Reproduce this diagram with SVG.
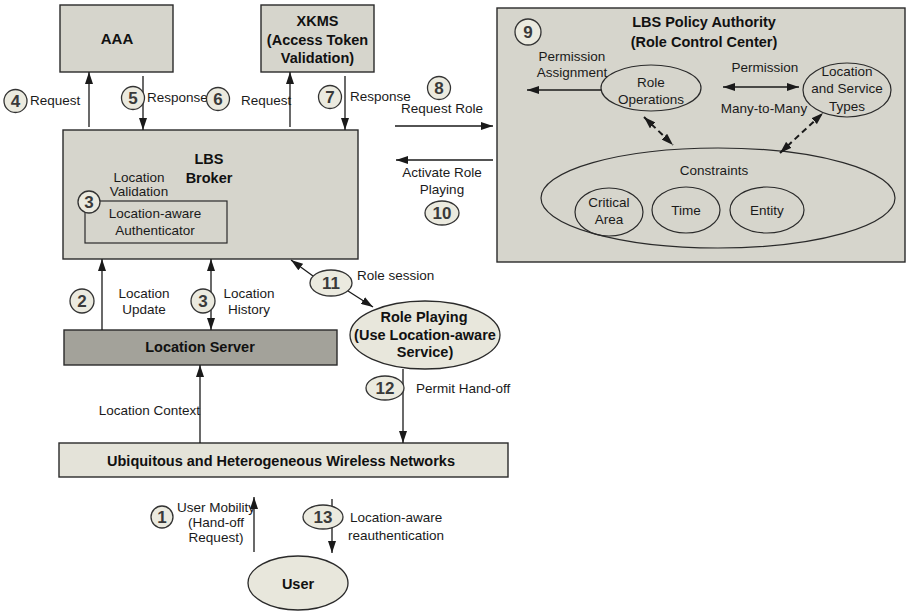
<svg xmlns="http://www.w3.org/2000/svg" width="911" height="612" viewBox="0 0 911 612">
  <defs>
    <marker id="ah" viewBox="0 0 12 8" refX="12" refY="4" markerWidth="12" markerHeight="8" markerUnits="userSpaceOnUse" orient="auto-start-reverse">
      <path d="M0,0 L12,4 L0,8 z" fill="#1a1a1a"/>
    </marker>
    <style>
      .box { fill: #d6d5cc; stroke: #2a2a2a; stroke-width: 1.4; }
      .srv { fill: #a3a29a; stroke: #2a2a2a; stroke-width: 1.4; }
      .net { fill: #e4e3d9; stroke: #2a2a2a; stroke-width: 1.4; }
      .ell { fill: #e8e7dc; stroke: #2a2a2a; stroke-width: 1.3; }
      .oval { fill: none; stroke: #2a2a2a; stroke-width: 1.2; }
      .num { fill: #ebeadf; stroke: #333; stroke-width: 1.3; }
      .numt { font-family: "Liberation Sans", Arial, sans-serif; font-weight: bold; font-size: 17px; fill: #3a3a3a; text-anchor: middle; }
      .t { font-family: "Liberation Sans", Arial, sans-serif; font-size: 13.5px; fill: #1a1a1a; }
      .c { text-anchor: middle; }
      .b { font-family: "Liberation Sans", Arial, sans-serif; font-weight: bold; font-size: 14.5px; fill: #111; text-anchor: middle; }
      .ln { stroke: #1a1a1a; stroke-width: 1.3; fill: none; }
      .dash { stroke: #1a1a1a; stroke-width: 2; stroke-dasharray: 6 4; fill: none; }
    </style>
  </defs>

  <!-- top services -->
  <g id="aaa">
    <rect class="box" x="60" y="5" width="113" height="67"/>
    <text class="b" x="117" y="44" style="font-size:15px">AAA</text>
  </g>
  <g id="xkms">
    <rect class="box" x="261" y="5" width="113" height="67"/>
    <text class="b" x="317.5" y="26">XKMS</text>
    <text class="b" x="317.5" y="45">(Access Token</text>
    <text class="b" x="317.5" y="63">Validation)</text>
  </g>

  <!-- broker -->
  <g id="broker">
    <rect class="box" x="63" y="130" width="295" height="129"/>
    <text class="b" x="209" y="164">LBS</text>
    <text class="b" x="209" y="183">Broker</text>
    <text class="t c" x="139" y="182">Location</text>
    <text class="t c" x="139" y="196">Validation</text>
  </g>
  <g id="authenticator">
    <rect x="85" y="201" width="142" height="42" fill="none" stroke="#2a2a2a" stroke-width="1.2"/>
    <text class="t c" x="155" y="218">Location-aware</text>
    <text class="t c" x="155" y="235">Authenticator</text>
    <circle class="num" cx="89" cy="202" r="11"/>
    <text class="numt" x="89" y="208">3</text>
  </g>

  <!-- policy authority -->
  <g id="policy">
    <rect class="box" x="497" y="8" width="408" height="254"/>
    <text class="b" x="704" y="27">LBS Policy Authority</text>
    <text class="b" x="704" y="47">(Role Control Center)</text>
    <circle class="num" cx="528" cy="32" r="13"/>
    <text class="numt" x="528" y="38">9</text>
    <text class="t c" x="572" y="61">Permission</text>
    <text class="t c" x="572" y="77">Assignment</text>
    <text class="t c" x="765" y="72">Permission</text>
    <text class="t c" x="764" y="113">Many-to-Many</text>
  </g>
  <g id="role-ops">
    <ellipse class="oval" cx="651" cy="88" rx="50" ry="23"/>
    <text class="t c" x="651" y="87">Role</text>
    <text class="t c" x="651" y="104">Operations</text>
  </g>
  <g id="loc-types">
    <ellipse class="oval" cx="847" cy="90" rx="44" ry="27"/>
    <text class="t c" x="847" y="76">Location</text>
    <text class="t c" x="847" y="93">and Service</text>
    <text class="t c" x="847" y="111">Types</text>
  </g>
  <g id="constraints">
    <ellipse class="oval" cx="718" cy="198" rx="177" ry="50"/>
    <text class="t c" x="714" y="175">Constraints</text>
  </g>
  <g id="critical-area">
    <ellipse class="oval" cx="609" cy="212" rx="34" ry="24"/>
    <text class="t c" x="609" y="207">Critical</text>
    <text class="t c" x="609" y="224">Area</text>
  </g>
  <g id="time">
    <ellipse class="oval" cx="686" cy="210" rx="34" ry="23"/>
    <text class="t c" x="686" y="215">Time</text>
  </g>
  <g id="entity">
    <ellipse class="oval" cx="767" cy="210" rx="37" ry="23"/>
    <text class="t c" x="767" y="215">Entity</text>
  </g>

  <!-- location server and networks -->
  <g id="location-server">
    <rect class="srv" x="64" y="330" width="273" height="35"/>
    <text class="b" x="200" y="352">Location Server</text>
  </g>
  <g id="role-playing">
    <ellipse class="ell" cx="425" cy="335" rx="75" ry="34"/>
    <text class="b" x="424" y="322">Role Playing</text>
    <text class="b" x="425" y="340">(Use Location-aware</text>
    <text class="b" x="425" y="357">Service)</text>
  </g>
  <g id="networks">
    <rect class="net" x="59" y="443" width="449" height="34"/>
    <text class="b" x="281" y="466">Ubiquitous and Heterogeneous Wireless Networks</text>
  </g>
  <g id="user">
    <ellipse class="ell" cx="298" cy="583" rx="50" ry="27"/>
    <text class="b" x="298" y="589">User</text>
  </g>

  <!-- connectors -->
  <g id="connectors">
    <line class="ln" x1="89" y1="127" x2="89" y2="72" marker-end="url(#ah)"/>
    <line class="ln" x1="143" y1="76" x2="143" y2="130" marker-end="url(#ah)"/>
    <line class="ln" x1="290" y1="127" x2="290" y2="72" marker-end="url(#ah)"/>
    <line class="ln" x1="345" y1="76" x2="345" y2="130" marker-end="url(#ah)"/>
    <line class="ln" x1="395" y1="126" x2="493" y2="126" marker-end="url(#ah)"/>
    <line class="ln" x1="493" y1="160" x2="396" y2="160" marker-end="url(#ah)"/>
    <line class="ln" x1="601" y1="90" x2="527" y2="90" marker-end="url(#ah)"/>
    <line class="ln" x1="723" y1="87" x2="799" y2="87" marker-start="url(#ah)" marker-end="url(#ah)"/>
    <line class="dash" x1="644" y1="117" x2="673" y2="145" marker-start="url(#ah)" marker-end="url(#ah)"/>
    <line class="dash" x1="780" y1="153" x2="823" y2="113" marker-start="url(#ah)" marker-end="url(#ah)"/>
    <line class="ln" x1="102" y1="330" x2="102" y2="259" marker-end="url(#ah)"/>
    <line class="ln" x1="211" y1="259" x2="211" y2="330" marker-start="url(#ah)" marker-end="url(#ah)"/>
    <line class="ln" x1="200" y1="443" x2="200" y2="365" marker-end="url(#ah)"/>
    <line class="ln" x1="313" y1="276" x2="291" y2="260" marker-end="url(#ah)"/>
    <line class="ln" x1="348" y1="291" x2="373" y2="307" marker-end="url(#ah)"/>
    <line class="ln" x1="403" y1="369" x2="403" y2="443" marker-end="url(#ah)"/>
    <line class="ln" x1="254" y1="552" x2="254" y2="497" marker-end="url(#ah)"/>
    <line class="ln" x1="332" y1="499" x2="332" y2="553" marker-end="url(#ah)"/>
  </g>

  <!-- step markers and labels -->
  <g id="step-4">
    <circle class="num" cx="15.5" cy="101" r="11.5"/>
    <text class="numt" x="15.5" y="107">4</text>
    <text class="t" x="30" y="105">Request</text>
  </g>
  <g id="step-5">
    <circle class="num" cx="133" cy="98" r="11.5"/>
    <text class="numt" x="133" y="104">5</text>
    <text class="t" x="147" y="102">Response</text>
  </g>
  <g id="step-6">
    <circle class="num" cx="218" cy="99" r="11.5"/>
    <text class="numt" x="218" y="105">6</text>
    <text class="t" x="241" y="105">Request</text>
  </g>
  <g id="step-7">
    <circle class="num" cx="330" cy="97" r="11.5"/>
    <text class="numt" x="330" y="103">7</text>
    <text class="t" x="350" y="101">Response</text>
  </g>
  <g id="step-8">
    <circle class="num" cx="439" cy="88" r="11.5"/>
    <text class="numt" x="439" y="94">8</text>
    <text class="t c" x="442" y="113">Request Role</text>
  </g>
  <g id="step-10">
    <text class="t c" x="442" y="177">Activate Role</text>
    <text class="t c" x="442" y="194">Playing</text>
    <ellipse class="num" cx="442" cy="213" rx="17" ry="12"/>
    <text class="numt" x="442" y="219">10</text>
  </g>
  <g id="step-2">
    <circle class="num" cx="82" cy="301" r="12"/>
    <text class="numt" x="82" y="307">2</text>
    <text class="t c" x="144" y="298">Location</text>
    <text class="t c" x="144" y="314">Update</text>
  </g>
  <g id="step-3">
    <circle class="num" cx="203" cy="301" r="12"/>
    <text class="numt" x="203" y="307">3</text>
    <text class="t c" x="249" y="298">Location</text>
    <text class="t c" x="249" y="314">History</text>
  </g>
  <g id="context-label">
    <text class="t" x="200" y="415" text-anchor="end">Location Context</text>
  </g>
  <g id="step-11">
    <ellipse class="num" cx="331" cy="283" rx="21" ry="13"/>
    <text class="numt" x="331" y="289">11</text>
    <text class="t" x="357" y="280">Role session</text>
  </g>
  <g id="step-12">
    <ellipse class="num" cx="385" cy="388" rx="19" ry="12"/>
    <text class="numt" x="385" y="394">12</text>
    <text class="t" x="416" y="393">Permit Hand-off</text>
  </g>
  <g id="step-1">
    <circle class="num" cx="162" cy="517" r="11"/>
    <text class="numt" x="162" y="523">1</text>
    <text class="t" x="177" y="512">User Mobility</text>
    <text class="t c" x="216" y="527">(Hand-off</text>
    <text class="t c" x="216" y="542">Request)</text>
  </g>
  <g id="step-13">
    <ellipse class="num" cx="323" cy="517" rx="20" ry="12"/>
    <text class="numt" x="323" y="523">13</text>
    <text class="t" x="350" y="522">Location-aware</text>
    <text class="t" x="348" y="540">reauthentication</text>
  </g>
</svg>
